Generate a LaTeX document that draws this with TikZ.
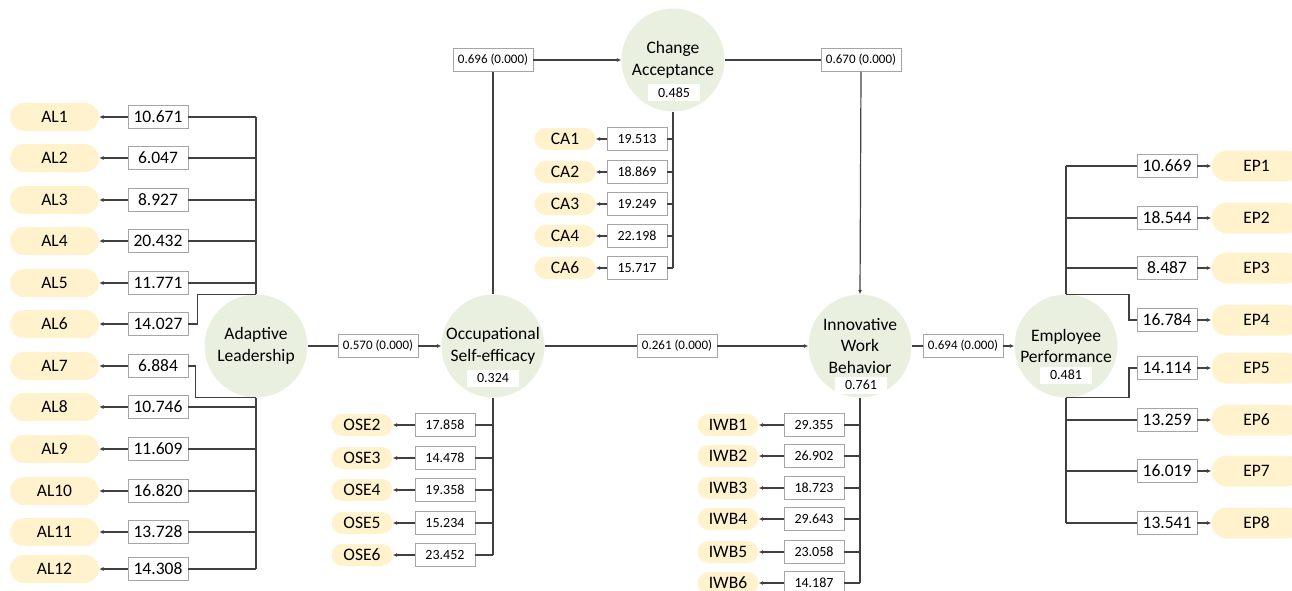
\documentclass[tikz,border=0pt]{standalone}
\usepackage{fontspec}
\setmainfont{Carlito}
\usetikzlibrary{arrows.meta,shapes.misc}
\definecolor{circfill}{HTML}{EAF0DF}
\definecolor{pillfill}{HTML}{FFF2CC}
\definecolor{boxline}{HTML}{A6A6A6}
\definecolor{connc}{HTML}{404040}
\tikzset{
  lv/.style={circle, fill=circfill, minimum size=103pt, inner sep=0pt},
  lvtext/.style={align=center, font=\fontsize{17.5}{21.5}\selectfont, inner sep=0pt},
  rsq/.style={fill=white, minimum width=52pt, minimum height=17pt, inner sep=0pt, font=\fontsize{14}{16}\selectfont},
  bigpill/.style={rounded rectangle, fill=pillfill, minimum width=89pt, minimum height=28pt, inner sep=0pt, font=\fontsize{17.5}{20}\selectfont},
  eppill/.style={rounded rectangle, fill=pillfill, minimum width=90pt, minimum height=31pt, inner sep=0pt, font=\fontsize{17.5}{20}\selectfont},
  smallpill/.style={rounded rectangle, fill=pillfill, minimum width=61pt, minimum height=22pt, inner sep=0pt, font=\fontsize{17.5}{20}\selectfont},
  bigval/.style={draw=boxline, line width=0.8pt, fill=white, minimum width=60pt, minimum height=23pt, inner sep=0pt, font=\fontsize{17.5}{20}\selectfont},
  smallval/.style={draw=boxline, line width=0.8pt, fill=white, minimum width=60pt, minimum height=23pt, inner sep=0pt, font=\fontsize{14}{16}\selectfont},
  coef/.style={draw=boxline, line width=0.8pt, fill=white, minimum width=80pt, minimum height=23pt, inner sep=0pt, font=\fontsize{13}{15}\selectfont},
  conn/.style={draw=connc, line width=1.2pt},
  arr/.style={conn, -{Latex[length=4.5pt,width=4pt]}}
}
\begin{document}
\begin{tikzpicture}[x=1pt,y=-1pt]
\useasboundingbox (0,0) rectangle (1292,591);

% latent variables
\node[lv] (AL) at (256,346) {};
\node[lv] (OSE) at (493,346) {};
\node[lv] (CA) at (673,60) {};
\node[lv] (IWB) at (860,346) {};
\node[lv] (EP) at (1066,346) {};

\node[lvtext] (ALt) at (256,346) {Adaptive\\Leadership};
\node[lvtext] (OSEt) at (493,346) {Occupational\\Self-efficacy};
\node[lvtext] (CAt) at (673,60) {Change\\Acceptance};
\node[lvtext] (IWBt) at (860,346) {Innovative\\Work\\Behavior};
\node[lvtext] (EPt) at (1066,346) {Employee\\Performance};

\node[rsq] (OSEr) at (493,378) {0.324};
\node[rsq] (CAr) at (674,93) {0.485};
\node[rsq] (IWBr) at (861,385) {0.761};
\node[rsq] (EPr) at (1066,375) {0.481};

% path coefficients
\node[coef] (c570) at (378,346) {0.570 (0.000)};
\node[coef] (c261) at (677,346) {0.261 (0.000)};
\node[coef] (c694) at (963,346) {0.694 (0.000)};
\node[coef] (c696) at (493,60) {0.696 (0.000)};
\node[coef] (c670) at (861,60) {0.670 (0.000)};

\draw[conn] (AL.east) -- (c570.west);
\draw[arr] (c570.east) -- (OSE.west);
\draw[conn] (OSE.east) -- (c261.west);
\draw[arr] (c261.east) -- (IWB.west);
\draw[conn] (IWB.east) -- (c694.west);
\draw[arr] (c694.east) -- (EP.west);
\draw[conn] (OSE.north) -- (c696.south);
\draw[arr] (c696.east) -- (CA.west);
\draw[conn] (CA.east) -- (c670.west);
\draw[arr] (c670.south) -- (IWB.north);

% AL indicators
\foreach \n/\y/\v in {1/117/10.671, 2/158/6.047, 3/200/8.927, 4/241/20.432, 5/283/11.771, 6/324/14.027, 7/366/6.884, 8/407/10.746, 9/449/11.609, 10/491/16.820, 11/532/13.728, 12/569/14.308}{
  \node[bigpill] (ALp\n) at (54.5,\y) {AL\n};
  \node[bigval] (ALv\n) at (158,\y) {\v};
  \draw[arr] (ALv\n.west) -- (ALp\n.east);
}
\foreach \n in {1,2,3,4,5,8,9,10,11,12}{
  \draw[conn] (ALv\n.east) -- (ALv\n.east -| AL.center);
}
\draw[conn] (ALv1.east -| AL.center) -- (AL.north);
\draw[conn] (AL.south) -- (ALv12.east -| AL.center);
\draw[conn] (ALv6.east) -- ++(9,0) |- (AL.north);
\draw[conn] (ALv7.east) -- ++(7,0) |- (AL.south);

% OSE indicators
\foreach \n/\y/\v in {2/425/17.858, 3/458/14.478, 4/490/19.358, 5/523/15.234, 6/555/23.452}{
  \node[smallpill] (OSEp\n) at (362,\y) {OSE\n};
  \node[smallval] (OSEv\n) at (445,\y) {\v};
  \draw[arr] (OSEv\n.west) -- (OSEp\n.east);
  \draw[conn] (OSEv\n.east) -- (OSEv\n.east -| OSE.center);
}
\draw[conn] (OSE.south) -- (OSEv6.east -| OSE.center);

% CA indicators
\foreach \n/\y/\v in {1/139/19.513, 2/172/18.869, 3/204/19.249, 4/236/22.198, 6/268/15.717}{
  \node[smallpill] (CAp\n) at (565,\y) {CA\n};
  \node[smallval] (CAv\n) at (637,\y) {\v};
  \draw[arr] (CAv\n.west) -- (CAp\n.east);
  \draw[conn] (CAv\n.east) -- (CAv\n.east -| CA.center);
}
\draw[conn] (CA.south) -- (CAv6.east -| CA.center);

% IWB indicators
\foreach \n/\y/\v in {1/425/29.355, 2/456/26.902, 3/488/18.723, 4/519/29.643, 5/552/23.058, 6/583/14.187}{
  \node[smallpill] (IWBp\n) at (728,\y) {IWB\n};
  \node[smallval] (IWBv\n) at (814,\y) {\v};
  \draw[arr] (IWBv\n.west) -- (IWBp\n.east);
  \draw[conn] (IWBv\n.east) -- (IWBv\n.east -| IWB.center);
}
\draw[conn] (IWB.south) -- (IWBv6.east -| IWB.center);

% EP indicators
\foreach \n/\y/\v in {1/166/10.669, 2/218/18.544, 3/268/8.487, 4/320/16.784, 5/368/14.114, 6/420/13.259, 7/471/16.019, 8/523/13.541}{
  \node[eppill] (EPp\n) at (1256.5,\y) {EP\n};
  \node[bigval] (EPv\n) at (1167,\y) {\v};
  \draw[arr] (EPv\n.east) -- (EPp\n.west);
}
\foreach \n in {1,2,3,6,7,8}{
  \draw[conn] (EPv\n.west -| EP.center) -- (EPv\n.west);
}
\draw[conn] (EPv1.west -| EP.center) -- (EP.north);
\draw[conn] (EP.south) -- (EPv8.west -| EP.center);
\draw[conn] (EP.north) -- ++(63,0) |- (EPv4.west);
\draw[conn] (EP.south) -- ++(63,0) |- (EPv5.west);
\end{tikzpicture}
\end{document}
